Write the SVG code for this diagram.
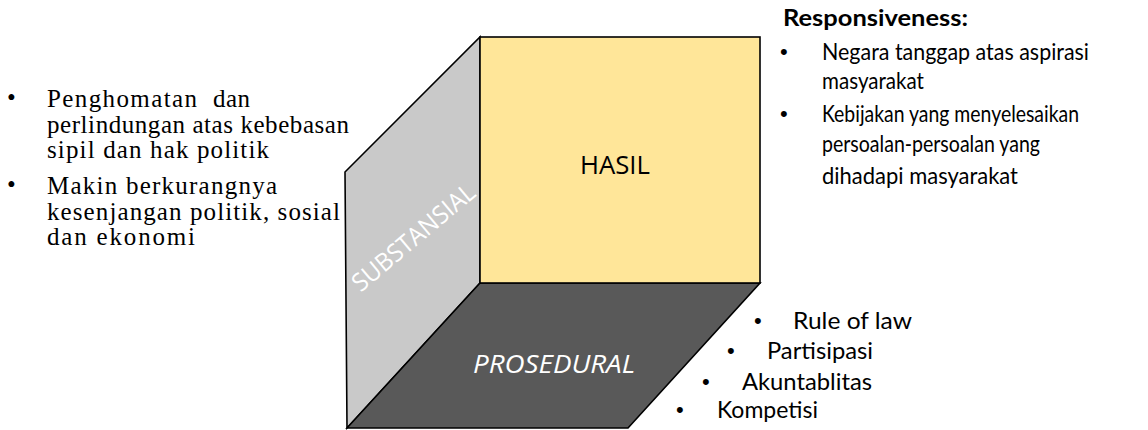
<svg xmlns="http://www.w3.org/2000/svg" width="1148" height="430" viewBox="0 0 1148 430">
<style>
.face{stroke:#000;stroke-width:1.6;stroke-linejoin:miter}
.serif{font-family:"Liberation Serif","Times New Roman",serif;font-size:25px;fill:#000}
.sans{font-family:Lato,"Open Sans","Liberation Sans",sans-serif;fill:#000}
.tr{font-size:23px}
.br{font-size:24px}
.dot{font-family:"Liberation Sans",Arial,sans-serif;font-size:22px}
.lbl{font-family:"Open Sans","Liberation Sans",sans-serif;font-size:25px}
</style>
<rect width="1148" height="430" fill="#fff"/>
<g id="cube">
  <g id="substansial">
    <polygon class="face" points="345,172 480,37 480,283 347,428" fill="#c9c9c9"/>
    <text class="lbl" fill="#fff" font-size="24" text-anchor="middle" transform="translate(413.5,237.5) rotate(-40)" y="8.5" textLength="152" lengthAdjust="spacingAndGlyphs">SUBSTANSIAL</text>
  </g>
  <g id="prosedural">
    <polygon class="face" points="347,428 480,283 760,283 628,428" fill="#595959"/>
    <text class="lbl" fill="#fff" font-style="italic" x="554" y="373" text-anchor="middle" textLength="162" lengthAdjust="spacingAndGlyphs">PROSEDURAL</text>
  </g>
  <g id="hasil">
    <rect class="face" x="480" y="37" width="280" height="246" fill="#ffe699"/>
    <text class="lbl" fill="#000" x="615" y="174" text-anchor="middle" textLength="70" lengthAdjust="spacingAndGlyphs">HASIL</text>
  </g>
</g>
<g id="left-notes" class="serif">
  <text x="7" y="106">•</text>
  <text x="47" y="107" textLength="150" lengthAdjust="spacing">Penghomatan</text>
  <text x="213" y="107" textLength="37" lengthAdjust="spacing">dan</text>
  <text x="47" y="133" textLength="302" lengthAdjust="spacing">perlindungan atas kebebasan</text>
  <text x="47" y="158" textLength="222" lengthAdjust="spacing">sipil dan hak politik</text>
  <text x="7" y="193">•</text>
  <text x="47" y="194" textLength="230" lengthAdjust="spacing">Makin berkurangnya</text>
  <text x="47" y="220" textLength="293" lengthAdjust="spacing">kesenjangan politik, sosial</text>
  <text x="47" y="245" textLength="148" lengthAdjust="spacing">dan ekonomi</text>
</g>
<g id="responsiveness" class="sans tr">
  <text x="783" y="26" font-weight="bold" textLength="185" lengthAdjust="spacingAndGlyphs">Responsiveness:</text>
  <text class="dot" x="780" y="59">•</text>
  <text x="822" y="60" textLength="267" lengthAdjust="spacingAndGlyphs">Negara tanggap atas aspirasi</text>
  <text x="822" y="89" textLength="102" lengthAdjust="spacingAndGlyphs">masyarakat</text>
  <text class="dot" x="780" y="121">•</text>
  <text x="822" y="122" textLength="257" lengthAdjust="spacingAndGlyphs">Kebijakan yang menyelesaikan</text>
  <text x="822" y="152" textLength="218" lengthAdjust="spacingAndGlyphs">persoalan-persoalan yang</text>
  <text x="822" y="184" textLength="196" lengthAdjust="spacingAndGlyphs">dihadapi masyarakat</text>
</g>
<g id="prosedural-list" class="sans br">
  <text class="dot" x="754" y="328">•</text>
  <text x="793" y="329" textLength="119" lengthAdjust="spacingAndGlyphs">Rule of law</text>
  <text class="dot" x="727" y="358">•</text>
  <text x="767" y="359" textLength="106" lengthAdjust="spacingAndGlyphs">Partisipasi</text>
  <text class="dot" x="702" y="389">•</text>
  <text x="742" y="390" textLength="130" lengthAdjust="spacingAndGlyphs">Akuntablitas</text>
  <text class="dot" x="676" y="417">•</text>
  <text x="717" y="418" textLength="101" lengthAdjust="spacingAndGlyphs">Kompetisi</text>
</g>
<g id="connectors"/>
</svg>
